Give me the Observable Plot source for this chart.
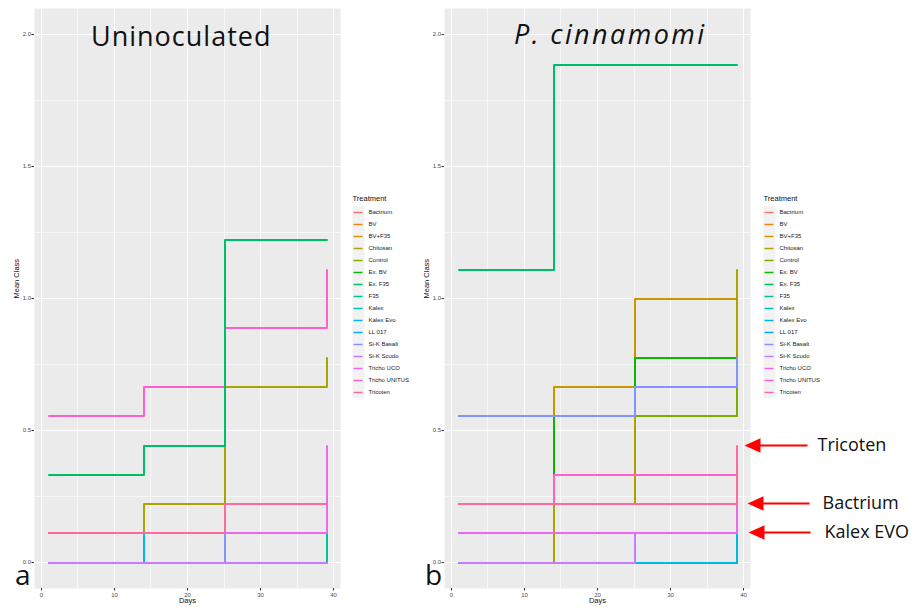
<!DOCTYPE html>
<html><head><meta charset="utf-8">
<script src="https://cdn.jsdelivr.net/npm/d3@7"></script>
<script src="https://cdn.jsdelivr.net/npm/@observablehq/plot@0.6"></script>
<style>
html,body{margin:0;padding:0;background:#fff;}
#root{position:relative;width:914px;height:607px;overflow:hidden;font-family:"Liberation Sans",Arial,sans-serif;}
.abs{position:absolute;}
.big{font-family:"Open Sans",sans-serif;color:#111;white-space:nowrap;line-height:1;overflow:visible;}
</style></head>
<body><div id="root"></div>
<script>
// ---------- data ----------
const treatments = ["Bactrium","BV","BV+F35","Chitosan","Control","Ex. BV","Ex. F35","F35","Kalex","Kalex Evo","LL 017","Si-K Basalt","Si-K Scudo","Tricho UCO","Tricho UNITUS","Tricoten"];
const colors = ["#F8766D","#E68613","#CD9600","#ABA300","#7CAE00","#0CB702","#00BE67","#00C19A","#00BFC4","#00B8E7","#00A9FF","#8494FF","#C77CFF","#ED68ED","#FF61CC","#FF68A1"];
const days = [1, 14, 25, 39];
// mean class per treatment at each day (rows follow `treatments`)
const uninoculated = [
  [0.111,0.111,0.111,0.111],
  [0,0,0,0],
  [0,0,0,0],
  [0.111,0.222,0.667,0.778],
  [0,0,0,0],
  [0,0,0,0],
  [0.333,0.444,1.222,1.222],
  [0,0,0,0.111],
  [0,0,0,0],
  [0,0.111,0.111,0.111],
  [0,0,0,0],
  [0,0,0.111,0.111],
  [0,0,0,0],
  [0.111,0.111,0.111,0.444],
  [0.556,0.667,0.889,1.111],
  [0.111,0.111,0.222,0.222]
];
const cinnamomi = [
  [0.222,0.222,0.222,0.222],
  [0,0,0,0],
  [0.556,0.667,1.0,1.0],
  [0,0.222,0.556,1.111],
  [0.556,0.556,0.556,0.667],
  [0.222,0.556,0.778,0.778],
  [1.111,1.889,1.889,1.889],
  [0,0,0,0],
  [0,0,0,0],
  [0,0,0,0.111],
  [0.111,0.111,0.111,0.111],
  [0.556,0.556,0.667,0.778],
  [0,0,0.111,0.111],
  [0.111,0.111,0.111,0.222],
  [0.222,0.333,0.333,0.333],
  [0.222,0.222,0.222,0.444]
];
const yTicks = [0, 0.5, 1, 1.5, 2];
const yMinor = [0.25, 0.75, 1.25, 1.75];
const xTicks = [0, 10, 20, 30, 40];
const xMinor = [5, 15, 25, 35];
const panelTitles = ["Uninoculated", "P. cinnamomi"];
const panelLetters = ["a", "b"];
const annLabels = ["Tricoten", "Bactrium", "Kalex EVO"];
const annValues = [0.444, 0.222, 0.111];

// ---------- helpers ----------
const drawOrder = treatments.filter(t => t !== "Ex. F35").concat(["Ex. F35"]);
function rows(values) {
  const out = [];
  drawOrder.forEach(t => {
    const i = treatments.indexOf(t);
    days.forEach((d, j) => out.push({treatment: t, day: d, value: values[i][j]}));
  });
  return out;
}
const xDomain = [-0.9, 40.9], yDomain = [-0.1, 2.1];
const frameW = 306;
const daysPerPx = (xDomain[1] - xDomain[0]) / frameW;
const fontAxis = '"Liberation Sans", Arial, sans-serif';

const leftTri = {
  draw(ctx, size) {
    const r = Math.sqrt(size / Math.PI);
    ctx.moveTo(-r, 0);
    ctx.lineTo(r, -0.9 * r);
    ctx.lineTo(r, 0.9 * r);
    ctx.closePath();
  }
};

function panel(values, width, extra) {
  return Plot.plot({
    width, height: 607,
    marginLeft: 34, marginRight: width - 34 - frameW, marginTop: 8, marginBottom: 19,
    style: {fontFamily: fontAxis, background: "transparent", overflow: "visible"},
    x: {domain: xDomain, round: true},
    y: {domain: yDomain, round: true},
    color: {domain: treatments, range: colors},
    marks: [
      Plot.frame({fill: "#EBEBEB", stroke: "none"}),
      Plot.gridX(xMinor, {stroke: "white", strokeOpacity: 0.6, strokeWidth: 1}),
      Plot.gridY(yMinor, {stroke: "white", strokeOpacity: 0.6, strokeWidth: 1}),
      Plot.gridX(xTicks, {stroke: "white", strokeOpacity: 1, strokeWidth: 1}),
      Plot.gridY(yTicks, {stroke: "white", strokeOpacity: 1, strokeWidth: 1}),
      Plot.axisX(xTicks, {tickSize: 2.5, tickPadding: 1.5, fontSize: 6, fill: "#4D4D4D", stroke: "#333", label: null}),
      Plot.axisY(yTicks, {tickSize: 2.5, tickPadding: 1, fontSize: 6, fill: "#4D4D4D", stroke: "#333", tickFormat: ".1f", label: null}),
      Plot.line(rows(values), {x: "day", y: "value", z: "treatment", stroke: "treatment", curve: "step-after", strokeWidth: 2, dx: 0.5, dy: 0.5}),
      Plot.text(["Mean Class"], {frameAnchor: "left", dx: -18, rotate: -90, fontSize: 7.5, fill: "#111"}),
      Plot.text(["Days"], {frameAnchor: "bottom", dy: 14.5, fontSize: 7.5, fill: "#111"}),
      ...extra
    ]
  });
}

function legend() {
  return Plot.plot({
    width: 90, height: 220, margin: 0,
    style: {fontFamily: fontAxis, background: "transparent", overflow: "visible"},
    x: {type: "identity", axis: null},
    y: {type: "point", domain: treatments, range: [23.7, 209], padding: 0, axis: null},
    color: {domain: treatments, range: colors},
    marks: [
      Plot.ruleX([0], {x: 9, y1: () => treatments[0], y2: () => treatments[treatments.length - 1], stroke: "#F2F2F2", strokeWidth: 12, insetTop: -6, insetBottom: -6}),
      Plot.ruleY(treatments, {y: d => d, x1: 4.5, x2: 13.5, stroke: d => d, strokeWidth: 1.5}),
      Plot.text(treatments, {y: d => d, x: 19, text: d => d, textAnchor: "start", fontSize: 6, fill: "#1a1a1a"}),
      Plot.text(["Treatment"], {frameAnchor: "top-left", dx: 3, dy: 9, fontSize: 7.5, textAnchor: "start", fill: "#111"})
    ]
  });
}

// annotation layout (pixel offsets from day 39)
const tipDx = [8, 11, 12], tailDx = [71, 73, 74], textDx = [81, 86, 88];
const ann = annLabels.map((label, i) => ({label, value: annValues[i], tip: tipDx[i], tail: tailDx[i], tx: textDx[i]}));
const annMarks = [
  Plot.link(ann, {x1: d => 39 + (d.tip + 14) * daysPerPx, x2: d => 39 + d.tail * daysPerPx, y1: "value", y2: "value", stroke: "#FF0000", strokeWidth: 2}),
  Plot.dot(ann, {x: d => 39 + d.tip * daysPerPx, y: "value", dx: 8, r: 8, symbol: leftTri, fill: "#FF0000", stroke: "none"}),
  Plot.text(ann, {x: d => 39 + d.tx * daysPerPx, y: "value", text: "label", textAnchor: "start", fontSize: 18, fontFamily: '"Open Sans", sans-serif', fill: "#111"})
];

// ---------- layout ----------
const root = document.getElementById("root");
function place(el, left, top) { el.classList.add("abs"); el.style.left = left + "px"; el.style.top = top + "px"; root.appendChild(el); return el; }

place(panel(uninoculated, 350, []), 0, 0);
place(panel(cinnamomi, 504, annMarks), 410, 0);
place(legend(), 349, 186);
place(legend(), 760, 186);

function big(text, left, top, size, italic, spacing, lh) {
  const s = document.createElement("div");
  s.className = "big";
  s.textContent = text;
  s.style.fontSize = size + "px";
  if (lh) s.style.lineHeight = lh;
  if (italic) s.style.fontStyle = "italic";
  if (spacing) s.style.letterSpacing = spacing + "px";
  return place(s, left, top);
}
big(panelTitles[0], 91, 22, 27, false, 1);
big(panelTitles[1], 514, 19.5, 27, true, 2.4);
big(panelLetters[0], 15, 567.1, 28, false, 0, 0.5);
big(panelLetters[1], 425, 567.1, 28, false, 0, 0.5);
</script>
</body></html>
